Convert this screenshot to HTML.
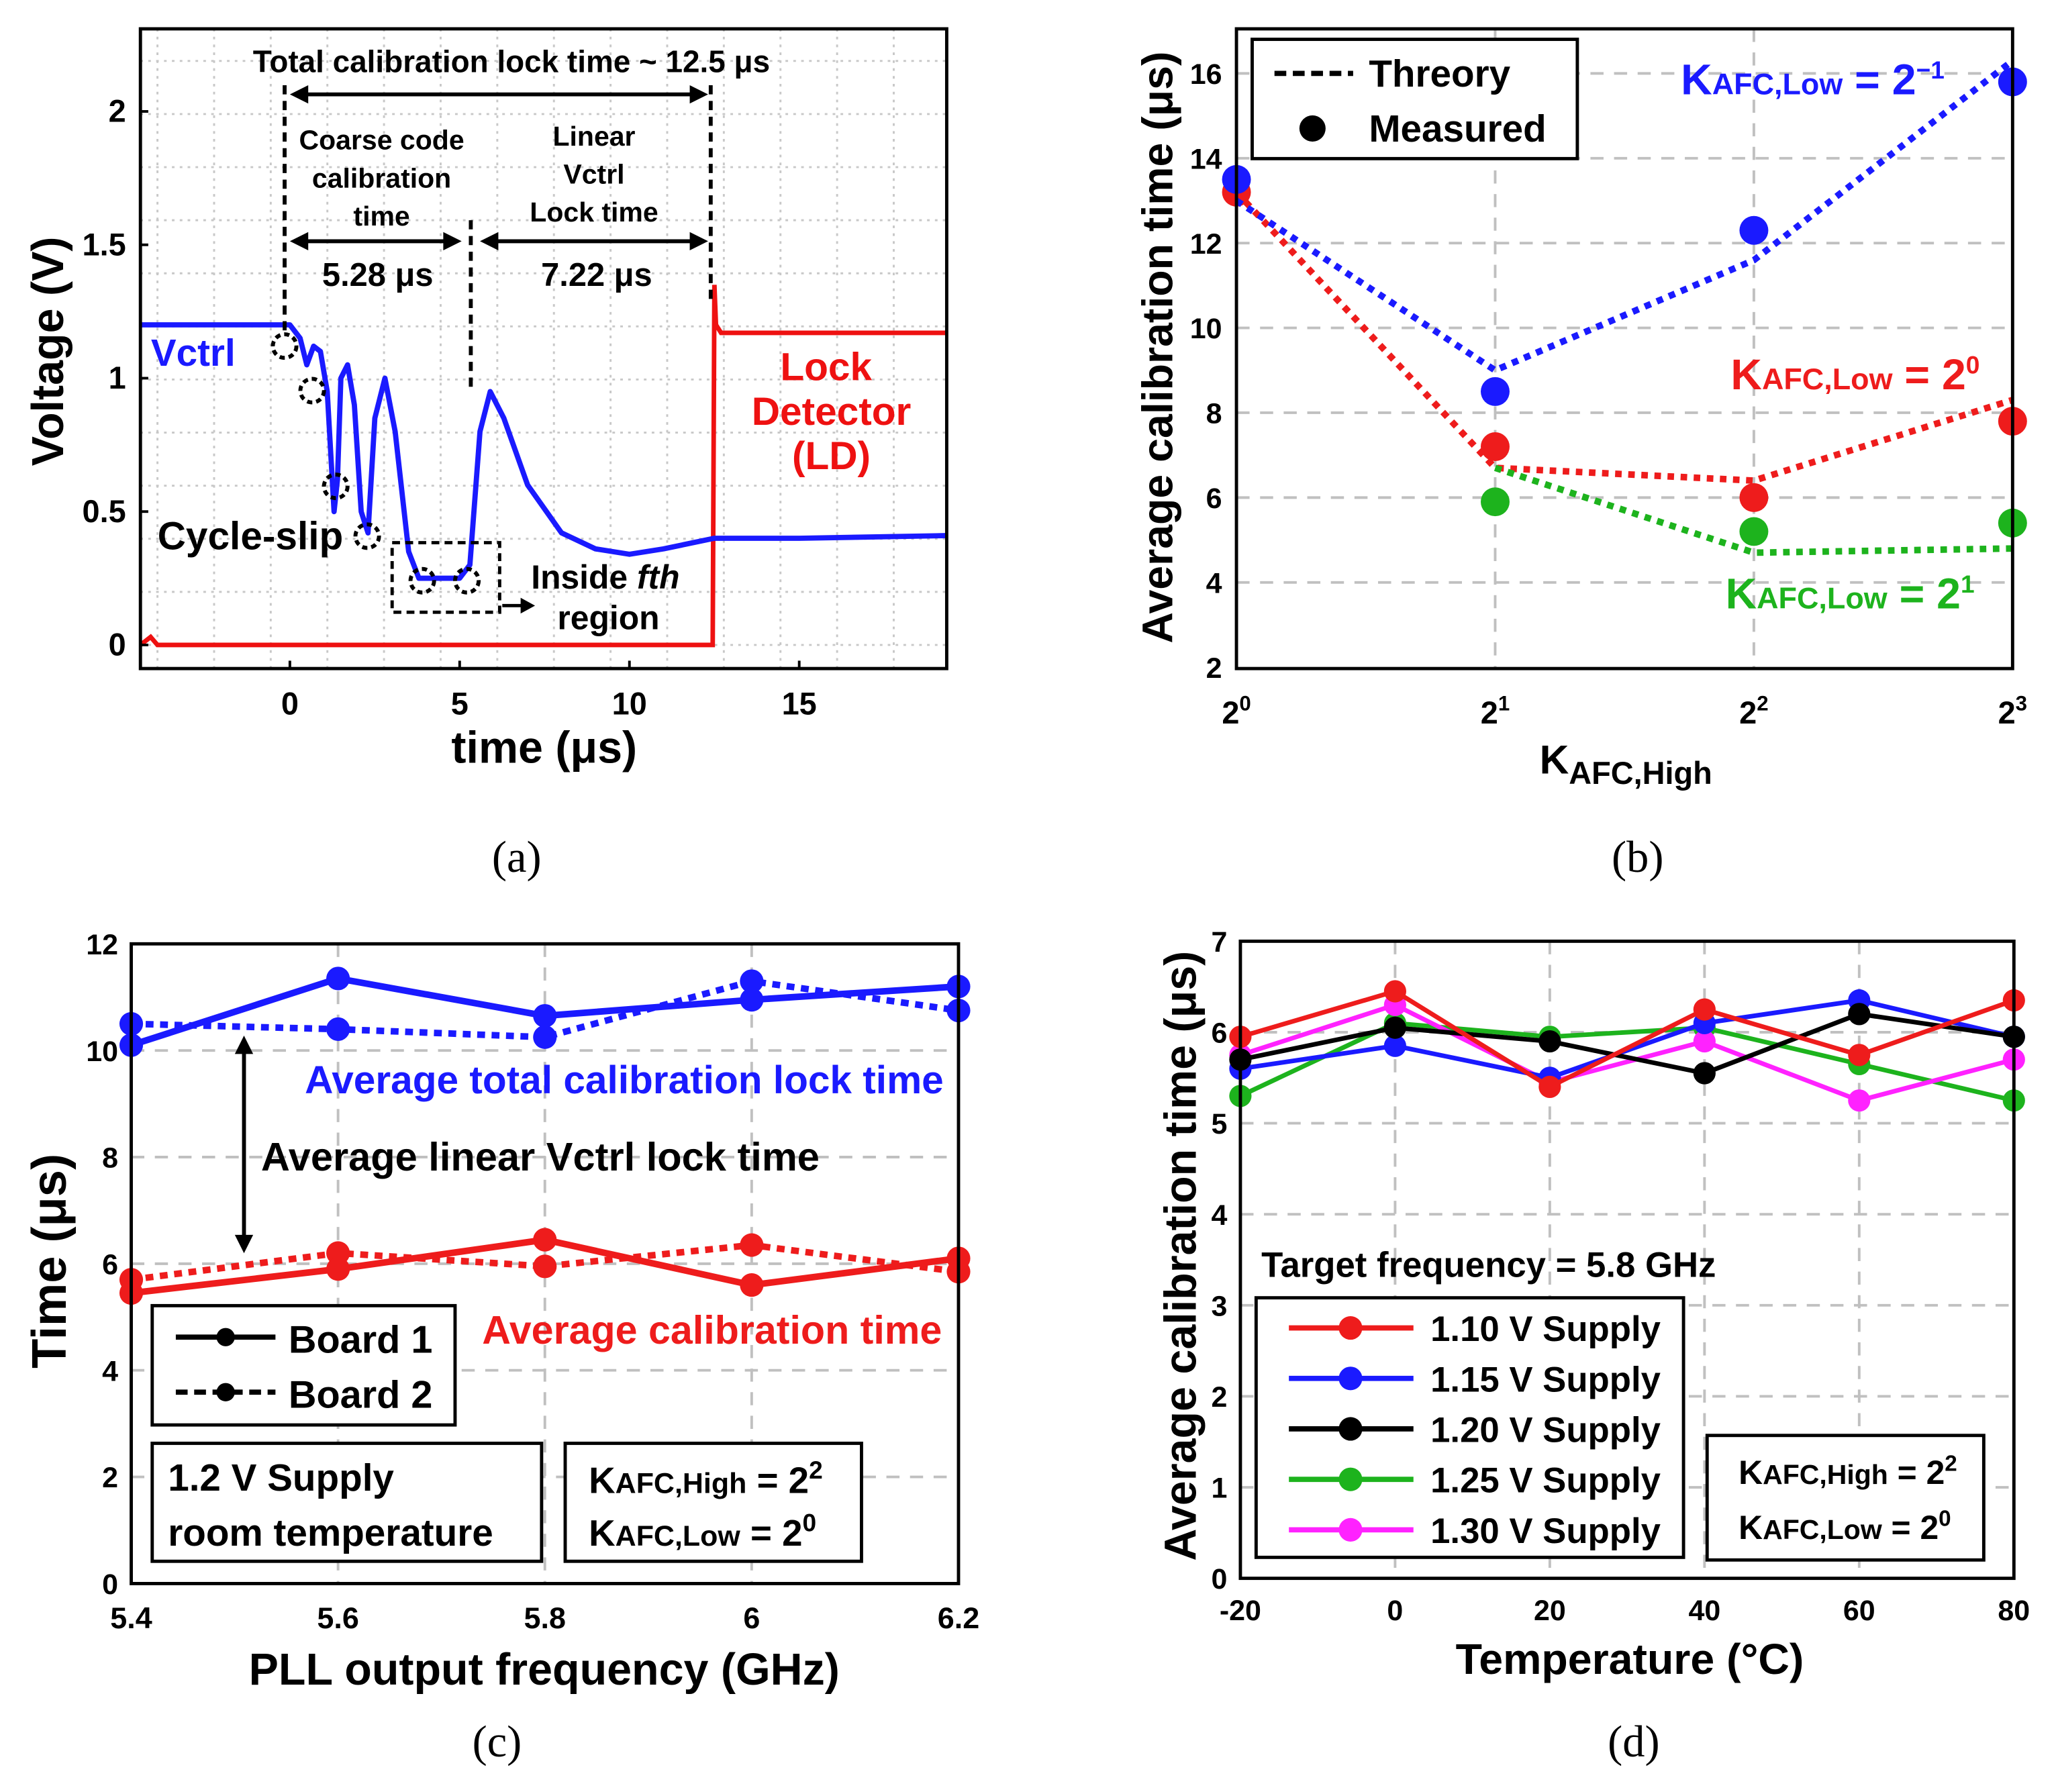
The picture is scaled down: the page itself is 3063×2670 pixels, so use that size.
<!DOCTYPE html>
<html><head><meta charset="utf-8"><style>
html,body{margin:0;padding:0;background:#fff}
svg{display:block}
text{font-family:"Liberation Sans",Arial,sans-serif;font-weight:bold}
.cap{font-family:"Liberation Serif",serif;font-weight:normal;font-size:34px}
</style></head><body>
<svg id="fig" xmlns="http://www.w3.org/2000/svg" width="3063" height="2670" viewBox="0 0 1568 1367">
<rect width="1568" height="1367" fill="#fff"/>
</svg>
<script>
// ---------- data ----------
// panel a
const aVctrlT=[-4.4,0,0.3,0.5,0.7,0.9,1.1,1.3,1.4,1.5,1.7,1.9,2.1,2.3,2.5,2.8,3.1,3.5,3.8,4.5,5.0,5.3,5.6,5.9,6.3,7,8,9,10,11,12.5,15,19.3];
const aVctrlV=[1.2,1.2,1.15,1.05,1.12,1.1,0.95,0.5,0.62,1.0,1.05,0.9,0.5,0.42,0.85,1.0,0.8,0.35,0.25,0.25,0.25,0.3,0.8,0.95,0.85,0.6,0.42,0.36,0.34,0.36,0.4,0.4,0.41];
const aLdT=[-4.4,-4.1,-3.9,12.45,12.5,12.55,12.7,19.3];
const aLdV=[0,0.03,0,0,1.35,1.2,1.17,1.17];
const aXTicks=[0,5,10,15];
const aYTicks=[0,0.5,1,1.5,2];
// panel b
const bXCats=[0,1,2,3];
const bBlueTh=[13,9.0,11.6,16.3], bBlueMe=[13.5,8.5,12.3,15.8];
const bRedTh=[13.2,6.7,6.4,8.3], bRedMe=[13.2,7.2,6.0,7.8];
const bGreenTh=[null,6.7,4.7,4.8], bGreenMe=[null,5.9,5.2,5.4];
const bYTicks=[2,4,6,8,10,12,14,16];
// panel c
const cX=[5.4,5.6,5.8,6.0,6.2];
const cXLabels=["5.4","5.6","5.8","6","6.2"];
const cBlue1=[10.1,11.35,10.65,10.95,11.2], cBlue2=[10.5,10.4,10.25,11.3,10.75];
const cRed1=[5.45,5.9,6.45,5.6,6.1], cRed2=[5.7,6.2,5.95,6.35,5.85];
const cYTicks=[0,2,4,6,8,10,12];
// panel d
const dX=[-20,0,20,40,60,80];
const dRed=[5.95,6.45,5.4,6.25,5.75,6.35];
const dBlue=[5.6,5.85,5.5,6.1,6.35,5.95];
const dBlack=[5.7,6.05,5.9,5.55,6.2,5.95];
const dGreen=[5.3,6.1,5.95,6.05,5.65,5.25];
const dMag=[5.75,6.3,5.45,5.9,5.25,5.7];
const dYTicks=[0,1,2,3,4,5,6,7];

// ---------- helpers ----------
const NS="http://www.w3.org/2000/svg";
const svg=document.getElementById('fig');
function el(tag,attrs,parent,txt){const e=document.createElementNS(NS,tag);for(const k in attrs)e.setAttribute(k,attrs[k]);if(txt!==undefined)e.textContent=txt;(parent||svg).appendChild(e);return e;}
function grp(name){const g=el('g',{},svg);return g;}
function lin(a0,a1,p0,p1){return v=>p0+(v-a0)*(p1-p0)/(a1-a0);}
function path(xs,ys,fx,fy){let d='';let pen=false;for(let i=0;i<xs.length;i++){if(ys[i]===null||ys[i]===undefined){pen=false;continue;}d+=(pen?'L':'M')+fx(xs[i]).toFixed(1)+' '+fy(ys[i]).toFixed(1);pen=true;}return d;}
function txt(g,x,y,s,size,opt){opt=opt||{};const t=el('text',Object.assign({x:x,y:y,'font-size':size,fill:opt.fill||'#000','text-anchor':opt.anchor||'start'},opt.extra||{}),g);t.innerHTML=s;return t;}

// ================= PANEL A =================
(function(){
const g=grp('panel-a');
const L=107,R=722,T=22,B=510;
const fx=lin(0,5,221,350.5), fy=lin(0,1,492,288.5);
el('rect',{x:L,y:T,width:R-L,height:B-T,fill:'#fff'},g);
const grid=grp('a-grid');g.appendChild(grid);
for(let x=L+13;x<R;x+=43.2)el('line',{x1:x,y1:T,x2:x,y2:B,stroke:'#c8c8c8','stroke-width':1.5,'stroke-dasharray':'2 4'},grid);
for(let y=B-18;y>T;y-=40.5)el('line',{x1:L,y1:y,x2:R,y2:y,stroke:'#c8c8c8','stroke-width':1.5,'stroke-dasharray':'2 4'},grid);
const ld=el('path',{d:path(aLdT,aLdV,fx,fy),fill:'none',stroke:'#ee1111','stroke-width':3.5},g);

const vc=el('path',{d:path(aVctrlT,aVctrlV,fx,fy),fill:'none',stroke:'#1a1aff','stroke-width':4,'stroke-linejoin':'round'},g);

el('rect',{x:L,y:T,width:R-L,height:B-T,fill:'none',stroke:'#000','stroke-width':2.5},g);
aXTicks.forEach(v=>{el('line',{x1:fx(v),y1:B,x2:fx(v),y2:B-6,stroke:'#000','stroke-width':2},g);txt(g,fx(v),545,v,24,{anchor:'middle'});});
aYTicks.forEach(v=>{el('line',{x1:L,y1:fy(v),x2:L+6,y2:fy(v),stroke:'#000','stroke-width':2},g);txt(g,96,fy(v)+8,v,24,{anchor:'end'});});
const xt=txt(g,415,582,'time (μs)',34,{anchor:'middle'});
const yt=txt(g,48,268,'Voltage (V)',34,{anchor:'middle',extra:{transform:'rotate(-90 48 268)'}});
const dash={stroke:'#000','stroke-width':3,'stroke-dasharray':'7 5'};
el('line',Object.assign({x1:217,y1:65,x2:217,y2:255},dash),g);
el('line',Object.assign({x1:542,y1:65,x2:542,y2:230},dash),g);
el('line',Object.assign({x1:359,y1:168,x2:359,y2:300},dash),g);
function arrow(x1,x2,y){el('line',{x1:x1+10,y1:y,x2:x2-10,y2:y,stroke:'#000','stroke-width':3},g);el('path',{d:`M${x1} ${y}l14 -7v14z M${x2} ${y}l-14 -7v14z`,fill:'#000'},g);}
arrow(221,540,72);arrow(221,352,184);arrow(366,540,184);
txt(g,390,55,'Total calibration lock time ~ 12.5 μs',23.5,{anchor:'middle'});
txt(g,291,114,'Coarse code',21,{anchor:'middle'});txt(g,291,143,'calibration',21,{anchor:'middle'});txt(g,291,172,'time',21,{anchor:'middle'});
txt(g,288,218,'5.28 μs',25,{anchor:'middle'});
txt(g,453,111,'Linear',21,{anchor:'middle'});txt(g,453,140,'Vctrl',21,{anchor:'middle'});txt(g,453,169,'Lock time',21,{anchor:'middle'});
txt(g,455,218,'7.22 μs',25,{anchor:'middle'});
txt(g,115,279,'Vctrl',29,{fill:'#1a1aff'});
txt(g,630,290,'Lock',30,{anchor:'middle',fill:'#ee1111'});txt(g,634,324,'Detector',30,{anchor:'middle',fill:'#ee1111'});txt(g,634,358,'(LD)',30,{anchor:'middle',fill:'#ee1111'});
txt(g,120,419,'Cycle-slip',30);
[[217,264],[238,298],[256,371],[280,409],[322,443],[356,443]].forEach(p=>el('circle',{cx:p[0],cy:p[1],r:9,fill:'none',stroke:'#000','stroke-width':3,'stroke-dasharray':'4 3'},g));
el('rect',Object.assign({x:299,y:414,width:82,height:53,fill:'none'},{stroke:'#000','stroke-width':2.5,'stroke-dasharray':'6 4'}),g);
el('line',{x1:383,y1:462,x2:398,y2:462,stroke:'#000','stroke-width':2.5},g);el('path',{d:'M408 462l-11 -6v12z',fill:'#000'},g);
txt(g,405,449,'Inside <tspan font-style="italic">fth</tspan>',25.5);txt(g,464,480,'region',25.5,{anchor:'middle'});
const c=txt(g,394,665,'(a)',34,{anchor:'middle'});c.setAttribute('class','cap');
})();

// ================= PANEL B =================
(function(){
const g=grp('panel-b');
const L=943,R=1535,T=22,B=510;
const fx=lin(0,3,943,1535), fy=lin(2,16,509,56);
bXCats.forEach(v=>{if(v>0&&v<3)el('line',{x1:fx(v),y1:T,x2:fx(v),y2:B,stroke:'#c0c0c0','stroke-width':2,'stroke-dasharray':'10 8'},g);});
bYTicks.forEach(v=>{if(v>2)el('line',{x1:L,y1:fy(v),x2:R,y2:fy(v),stroke:'#c0c0c0','stroke-width':2,'stroke-dasharray':'10 8'},g);});
function series(th,me,col,name){
 const xs=bXCats;
 const p=el('path',{d:path(xs,th,fx,fy),fill:'none',stroke:col,'stroke-width':5,'stroke-dasharray':'5 5'},g);
 
 xs.forEach((x,i)=>{if(me[i]===null)return;const c=el('circle',{cx:fx(x),cy:fy(me[i]),r:11,fill:col},g);});
}
series(bRedTh,bRedMe,'#ee1c1c','k-low-2-0');
series(bGreenTh,bGreenMe,'#1db31d','k-low-2-1');
series(bBlueTh,bBlueMe,'#1a1aff','k-low-2-neg1');
el('rect',{x:L,y:T,width:R-L,height:B-T,fill:'none',stroke:'#000','stroke-width':2.5},g);
bYTicks.forEach(v=>txt(g,932,fy(v)+8,v,22,{anchor:'end'}));
bXCats.forEach(v=>txt(g,fx(v),552,'2<tspan dy="-10" font-size="16">'+v+'</tspan>',24,{anchor:'middle'}));
txt(g,1240,590,'K<tspan dy="8" font-size="24">AFC,High</tspan>',31,{anchor:'middle'});
txt(g,894,265,'Average calibration time (μs)',33,{anchor:'middle',extra:{transform:'rotate(-90 894 265)'}});
const lg=grp('b-legend');g.appendChild(lg);
el('rect',{x:955,y:30,width:248,height:91,fill:'#fff',stroke:'#000','stroke-width':2.5},lg);
el('line',{x1:972,y1:56,x2:1032,y2:56,stroke:'#000','stroke-width':4,'stroke-dasharray':'9 5'},lg);
txt(lg,1044,66,'Threory',29);
el('circle',{cx:1001,cy:98,r:10,fill:'#000'},lg);txt(lg,1044,108,'Measured',29);
txt(g,1282,72,'K<tspan font-size="23">AFC,Low</tspan> = 2<tspan dy="-12" font-size="19">−1</tspan>',33,{fill:'#1a1aff'});
txt(g,1320,297,'K<tspan font-size="23">AFC,Low</tspan> = 2<tspan dy="-12" font-size="19">0</tspan>',33,{fill:'#ee1c1c'});
txt(g,1316,464,'K<tspan font-size="23">AFC,Low</tspan> = 2<tspan dy="-12" font-size="19">1</tspan>',33,{fill:'#1db31d'});
const c=txt(g,1249,665,'(b)',34,{anchor:'middle'});c.setAttribute('class','cap');
})();

// ================= PANEL C =================
(function(){
const g=grp('panel-c');
const L=100,R=731,T=720,B=1208;
const fx=lin(5.4,6.2,100,731), fy=lin(0,12,1208,720);
cX.forEach(v=>{el('line',{x1:fx(v),y1:T,x2:fx(v),y2:B,stroke:'#c0c0c0','stroke-width':2,'stroke-dasharray':'10 8'},g);});
cYTicks.forEach(v=>{el('line',{x1:L,y1:fy(v),x2:R,y2:fy(v),stroke:'#c0c0c0','stroke-width':2,'stroke-dasharray':'10 8'},g);});
function series(ys,col,dashed,name){
 const p=el('path',{d:path(cX,ys,fx,fy),fill:'none',stroke:col,'stroke-width':5},g);
 if(dashed)p.setAttribute('stroke-dasharray','6 5');
 
 cX.forEach((x,i)=>{const c=el('circle',{cx:fx(x),cy:fy(ys[i]),r:9,fill:col},g);});
}
series(cBlue2,'#1a1aff',true,'total-lock-board2');
series(cBlue1,'#1a1aff',false,'total-lock-board1');
series(cRed2,'#ee1c1c',true,'calib-board2');
series(cRed1,'#ee1c1c',false,'calib-board1');
el('rect',{x:L,y:T,width:R-L,height:B-T,fill:'none',stroke:'#000','stroke-width':2.5},g);
cYTicks.forEach(v=>txt(g,90,fy(v)+8,v,22,{anchor:'end'}));
cX.forEach((v,i)=>txt(g,fx(v),1242,cXLabels[i],23,{anchor:'middle'}));
txt(g,415,1285,'PLL output frequency (GHz)',34,{anchor:'middle'});
txt(g,50,962,'Time (μs)',37,{anchor:'middle',extra:{transform:'rotate(-90 50 962)'}});
txt(g,476,834,'Average total calibration lock time',30,{anchor:'middle',fill:'#1a1aff'});
txt(g,412,893,'Average linear Vctrl lock time',30.5,{anchor:'middle'});
txt(g,543,1025,'Average calibration time',30.3,{anchor:'middle',fill:'#ee1c1c'});
el('line',{x1:186,y1:800,x2:186,y2:945,stroke:'#000','stroke-width':3},g);
el('path',{d:'M186 790l-7 14h14z M186 956l-7 -14h14z',fill:'#000'},g);
const lg=grp('c-legend');g.appendChild(lg);
el('rect',{x:116,y:996,width:231,height:91,fill:'#fff',stroke:'#000','stroke-width':2.5},lg);
el('line',{x1:134,y1:1020,x2:210,y2:1020,stroke:'#000','stroke-width':4},lg);el('circle',{cx:172,cy:1020,r:7},lg);
txt(lg,220,1032,'Board 1',29.5);
el('line',{x1:134,y1:1062,x2:210,y2:1062,stroke:'#000','stroke-width':4,'stroke-dasharray':'9 5'},lg);el('circle',{cx:172,cy:1062,r:7},lg);
txt(lg,220,1074,'Board 2',29.5);
el('rect',{x:116,y:1101,width:297,height:90,fill:'#fff',stroke:'#000','stroke-width':2.5},g);
txt(g,128,1137,'1.2 V Supply',29);txt(g,128,1179,'room temperature',29);
el('rect',{x:431,y:1101,width:226,height:90,fill:'#fff',stroke:'#000','stroke-width':2.5},g);
txt(g,449,1139,'K<tspan font-size="22">AFC,High</tspan> = 2<tspan dy="-11" font-size="19">2</tspan>',28);
txt(g,449,1179,'K<tspan font-size="22">AFC,Low</tspan>  = 2<tspan dy="-11" font-size="19">0</tspan>',28);
const c=txt(g,379,1340,'(c)',34,{anchor:'middle'});c.setAttribute('class','cap');
})();

// ================= PANEL D =================
(function(){
const g=grp('panel-d');
const L=946,R=1536,T=718,B=1204;
const fx=lin(-20,80,946,1536), fy=lin(0,7,1204,718);
dX.forEach(v=>{el('line',{x1:fx(v),y1:T,x2:fx(v),y2:B,stroke:'#c0c0c0','stroke-width':2,'stroke-dasharray':'10 8'},g);});
dYTicks.forEach(v=>{el('line',{x1:L,y1:fy(v),x2:R,y2:fy(v),stroke:'#c0c0c0','stroke-width':2,'stroke-dasharray':'10 8'},g);});
const ser=[[dGreen,'#1db31d','supply-1-25v'],[dMag,'#ff22ff','supply-1-30v'],[dBlue,'#1a1aff','supply-1-15v'],[dBlack,'#000','supply-1-20v'],[dRed,'#ee1c1c','supply-1-10v']];
ser.forEach(s=>{
 const p=el('path',{d:path(dX,s[0],fx,fy),fill:'none',stroke:s[1],'stroke-width':3.5},g);
 
 dX.forEach((x,i)=>{const c=el('circle',{cx:fx(x),cy:fy(s[0][i]),r:8.5,fill:s[1]},g);});
});
el('rect',{x:L,y:T,width:R-L,height:B-T,fill:'none',stroke:'#000','stroke-width':2.5},g);
dYTicks.forEach(v=>txt(g,936,fy(v)+8,v,22,{anchor:'end'}));
dX.forEach(v=>txt(g,fx(v),1236,v,22,{anchor:'middle'}));
txt(g,1243,1277,'Temperature (°C)',33,{anchor:'middle'});
txt(g,912,958,'Average calibration time (μs)',34,{anchor:'middle',extra:{transform:'rotate(-90 912 958)'}});
txt(g,962,974,'Target frequency = 5.8 GHz',27);
const lg=grp('d-legend');g.appendChild(lg);
el('rect',{x:958,y:990,width:326,height:198,fill:'#fff',stroke:'#000','stroke-width':2.5},lg);
[['#ee1c1c','1.10 V Supply'],['#1a1aff','1.15 V Supply'],['#000','1.20 V Supply'],['#1db31d','1.25 V Supply'],['#ff22ff','1.30 V Supply']].forEach((e,i)=>{
 const y=1013+i*38.5;
 el('line',{x1:983,y1:y,x2:1078,y2:y,stroke:e[0],'stroke-width':4},lg);el('circle',{cx:1030,cy:y,r:9,fill:e[0]},lg);
 txt(lg,1091,y+10,e[1],27);
});
el('rect',{x:1302,y:1095,width:211,height:95,fill:'#fff',stroke:'#000','stroke-width':2.5},g);
txt(g,1326,1132,'K<tspan font-size="21">AFC,High</tspan> = 2<tspan dy="-10" font-size="17">2</tspan>',25.5);
txt(g,1326,1174,'K<tspan font-size="21">AFC,Low</tspan>  = 2<tspan dy="-10" font-size="17">0</tspan>',25.5);
const c=txt(g,1246,1340,'(d)',34,{anchor:'middle'});c.setAttribute('class','cap');
})();
</script>
</body></html>
